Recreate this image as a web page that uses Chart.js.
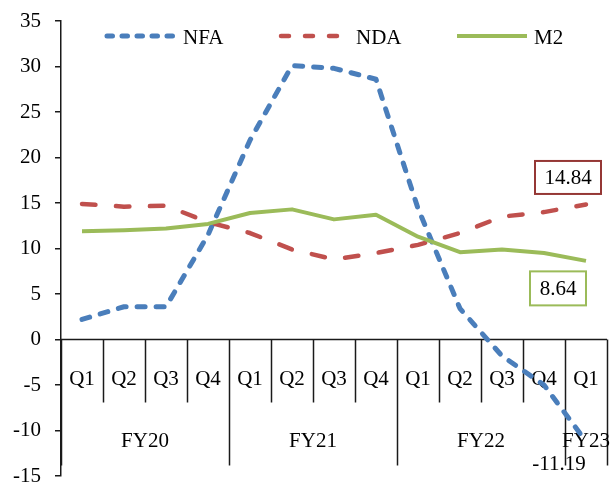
<!DOCTYPE html>
<html>
<head>
<meta charset="utf-8">
<script src="https://cdn.jsdelivr.net/npm/chart.js@4/dist/chart.umd.min.js"></script>
<style>
  html, body { margin: 0; padding: 0; background: #fff; }
  #wrap { width: 610px; height: 483px; position: relative; }
</style>
</head>
<body>
<div id="wrap"><canvas id="c"></canvas></div>
<script>
// Quarterly growth, year-on-year (%)
const quarters = ['Q1', 'Q2', 'Q3', 'Q4', 'Q1', 'Q2', 'Q3', 'Q4', 'Q1', 'Q2', 'Q3', 'Q4', 'Q1'];
const fiscalYears = ['FY20', 'FY21', 'FY22', 'FY23'];
const fiscalSpans = [4, 4, 4, 1];

const nfa = [2.2, 3.6, 3.6, 11.5, 21.9, 30.1, 29.8, 28.6, 14.4, 3.4, -1.8, -5.0, -11.19];
const nda = [14.9, 14.6, 14.7, 12.9, 11.7, 9.9, 8.8, 9.5, 10.4, 11.7, 13.5, 14.0, 14.84];
const m2  = [11.9, 12.0, 12.2, 12.7, 13.9, 14.3, 13.2, 13.7, 11.3, 9.6, 9.9, 9.5, 8.64];

const yMin = -15, yMax = 35, yStep = 5;

const FONT = '"Liberation Serif", "Times New Roman", serif';
const BLUE = '#4A7EBB', RED = '#C0504D', GREEN = '#9BBB59';

// Two-level category axis, legend and end-of-series value labels
const decor = {
  id: 'decor',
  beforeDatasetsDraw(chart) {
    const { ctx, chartArea: a, scales: { x, y } } = chart;
    const y0 = y.getPixelForValue(0);
    const cw = x.getPixelForValue(1) - x.getPixelForValue(0);
    ctx.save();
    ctx.strokeStyle = '#1a1a1a';
    ctx.lineWidth = 1.5;
    ctx.beginPath();
    ctx.moveTo(a.left, y0);
    ctx.lineTo(a.right, y0);
    ctx.stroke();

    // group boundaries (long) and quarter boundaries (short)
    const longIdx = new Set([0]);
    let acc = 0;
    fiscalSpans.forEach(s => { acc += s; longIdx.add(acc); });
    for (let i = 0; i <= quarters.length; i++) {
      const bx = Math.round(x.getPixelForValue(i) - cw / 2) + 0.5;
      ctx.beginPath();
      ctx.moveTo(bx, y0);
      ctx.lineTo(bx, y0 + (longIdx.has(i) ? 126 : 63));
      ctx.stroke();
    }

    ctx.fillStyle = '#000';
    ctx.font = '21px ' + FONT;
    ctx.textAlign = 'center';
    ctx.textBaseline = 'alphabetic';
    quarters.forEach((q, i) => ctx.fillText(q, x.getPixelForValue(i), y0 + 45));

    let start = 0;
    fiscalYears.forEach((fy, k) => {
      const end = start + fiscalSpans[k] - 1;
      const cx = (x.getPixelForValue(start) + x.getPixelForValue(end)) / 2;
      ctx.fillText(fy, cx, y0 + 107);
      start += fiscalSpans[k];
    });
    ctx.restore();
  },
  afterDatasetsDraw(chart) {
    const { ctx } = chart;
    ctx.save();
    ctx.font = '21px ' + FONT;
    ctx.textBaseline = 'alphabetic';

    // legend
    const items = [
      { ds: 0, x1: 107, x2: 173, tx: 183 },
      { ds: 1, x1: 281, x2: 343, tx: 356 },
      { ds: 2, x1: 457, x2: 527, tx: 534 }
    ];
    items.forEach(it => {
      const d = chart.data.datasets[it.ds];
      ctx.save();
      ctx.strokeStyle = d.borderColor;
      ctx.lineWidth = d.borderWidth;
      ctx.lineCap = d.borderCapStyle || 'butt';
      ctx.setLineDash(d.legendDash || []);
      ctx.beginPath();
      ctx.moveTo(it.x1, 36);
      ctx.lineTo(it.x2, 36);
      ctx.stroke();
      ctx.restore();
      ctx.fillStyle = '#000';
      ctx.textAlign = 'left';
      ctx.fillText(d.label, it.tx, 44);
    });

    // value labels on the last quarter
    const last = quarters.length - 1;
    const boxLabel = (dsIndex, dx, dy, w, h, color) => {
      const pt = chart.getDatasetMeta(dsIndex).data[last];
      const v = chart.data.datasets[dsIndex].data[last];
      const cx = pt.x + dx, cy = pt.y + dy;
      ctx.fillStyle = '#fff';
      ctx.fillRect(cx - w / 2, cy - h / 2, w, h);
      ctx.strokeStyle = color;
      ctx.lineWidth = 2;
      ctx.strokeRect(cx - w / 2, cy - h / 2, w, h);
      ctx.fillStyle = '#000';
      ctx.textAlign = 'center';
      ctx.fillText(v.toFixed(2), cx, cy + 7);
    };
    boxLabel(1, -18, -27, 66, 33, '#953735');
    boxLabel(2, -28, 27.5, 56, 34, GREEN);

    const pn = chart.getDatasetMeta(0).data[last];
    ctx.fillStyle = '#000';
    ctx.textAlign = 'center';
    ctx.fillText(nfa[last].toFixed(2), pn.x - 27, pn.y + 29);
    ctx.restore();
  }
};

new Chart(document.getElementById('c'), {
  type: 'line',
  data: {
    labels: quarters,
    datasets: [
      {
        label: 'NFA', data: nfa, borderColor: BLUE, borderWidth: 5,
        borderDash: [8, 11], legendDash: [5.5, 9.5], borderCapStyle: 'round', borderJoinStyle: 'round',
        pointRadius: 0, tension: 0, order: 2
      },
      {
        label: 'NDA', data: nda, borderColor: RED, borderWidth: 4.5,
        borderDash: [13.5, 20.5], legendDash: [8, 16], borderCapStyle: 'round', borderJoinStyle: 'round',
        pointRadius: 0, tension: 0, order: 1
      },
      {
        label: 'M2', data: m2, borderColor: GREEN, borderWidth: 4,
        borderCapStyle: 'butt', borderJoinStyle: 'round',
        pointRadius: 0, tension: 0, order: 0
      }
    ]
  },
  options: {
    responsive: true,
    maintainAspectRatio: false,
    animation: false,
    devicePixelRatio: 1,
    layout: { padding: { left: 0, right: 3, top: 21, bottom: 7 } },
    plugins: { legend: { display: false }, tooltip: { enabled: false } },
    scales: {
      x: { type: 'category', offset: true, display: false },
      y: {
        min: yMin, max: yMax,
        afterFit(scale) { scale.width = 61; scale.paddingTop = 0; scale.paddingBottom = 0; },
        ticks: { stepSize: yStep, color: '#000', padding: 14, font: { family: FONT, size: 21 } },
        grid: { drawOnChartArea: false, tickLength: 6, color: '#1a1a1a', lineWidth: 1.5 },
        border: { color: '#1a1a1a', width: 1.5 }
      }
    }
  },
  plugins: [decor]
});
</script>
</body>
</html>
